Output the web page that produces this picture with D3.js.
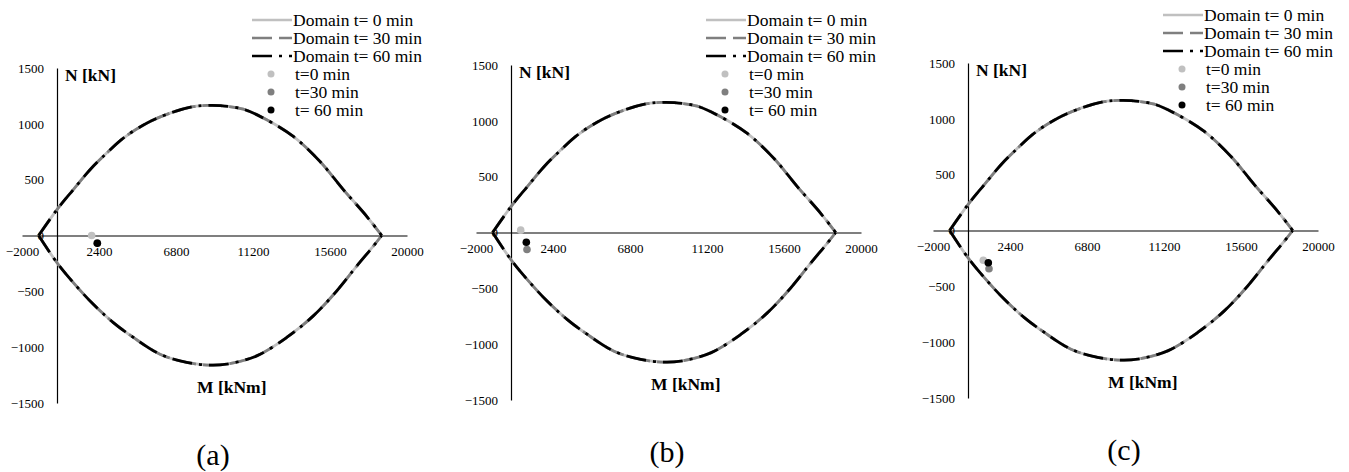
<!DOCTYPE html>
<html>
<head>
<meta charset="utf-8">
<script src="https://cdn.jsdelivr.net/npm/d3@7"></script>
<style>
  html, body { margin: 0; padding: 0; background: #fff; }
  svg, svg text { font-family: "Liberation Serif", "Times New Roman", Times, serif; }
  svg { display: block; }
</style>
</head>
<body>
<svg id="chart" width="1349" height="472"></svg>
<script>
const FONT = "Liberation Serif, Times New Roman, Times, serif";

// Axis ticks
const mTicks = [-2000, 2400, 6800, 11200, 15600, 20000];
const nTicks = [-1500, -1000, -500, 0, 500, 1000, 1500];

// Interaction domain (M [kNm], N [kN]) - upper and lower branches
const upperM = [-1050, 0, 933, 1886, 2838, 3790, 5124, 6457, 7790, 8600, 9314, 10646, 11983, 13503, 15029, 16360, 17697, 18554];
const upperN = [0, 232, 411, 589, 738, 872, 1006, 1096, 1154, 1165, 1163, 1131, 1036, 887, 663, 411, 172, 0];
const lowerM = [-1050, 0, 933, 2076, 3219, 4362, 5886, 7411, 8743, 9697, 11411, 13126, 14646, 15983, 17126, 18074, 18554];
const lowerN = [0, -244, -422, -616, -780, -913, -1063, -1137, -1161, -1152, -1078, -913, -720, -497, -274, -96, 0];

// Series names
const domainNames = ["Domain t= 0 min", "Domain t= 30 min", "Domain t= 60 min"];
const pointNames = ["t=0 min", "t=30 min", "t= 60 min"];

// Acting loads per case, one value per time step (0, 30, 60 min)
const loadM_a = [1980, 2300, 2305];
const loadN_a = [0, -68, -70];
const loadM_b = [554, 914, 875];
const loadN_b = [21, -152, -87];
const loadM_c = [874, 1200, 1160];
const loadN_c = [-266, -343, -289];

const captions = ["(a)", "(b)", "(c)"];

const seriesColor = ["#c0c0c0", "#7f7f7f", "#000000"];
const seriesDash = [null, "20,7", "20,7,3,7"];

const panels = [
  { caption: captions[0], x0: 22,  y0: 68, M: loadM_a, N: loadN_a, ly: 20 },
  { caption: captions[1], x0: 476, y0: 65, M: loadM_b, N: loadN_b, ly: 20 },
  { caption: captions[2], x0: 933, y0: 63, M: loadM_c, N: loadN_c, ly: 15 }
];

const W = 385, H = 335;
const svg = d3.select("#chart");

const upper = upperM.map((m, i) => [m, upperN[i]]);
const lower = lowerM.map((m, i) => [m, lowerN[i]]);

panels.forEach(p => {
  const x = d3.scaleLinear().domain([-2000, 20000]).range([p.x0, p.x0 + W]);
  const y = d3.scaleLinear().domain([-1500, 1500]).range([p.y0 + H, p.y0]);
  const g = svg.append("g").attr("font-family", FONT);

  // Horizontal M axis through N = 0
  const xAxis = d3.axisBottom(x).tickValues(mTicks).tickSize(0).tickSizeOuter(0).tickPadding(11)
    .tickFormat(d3.format("d"));
  const gx = g.append("g").attr("transform", `translate(0,${y(0)})`).call(xAxis)
    .attr("font-family", FONT).attr("font-size", 13);
  gx.select(".domain").attr("stroke", "#000").attr("stroke-width", 1.2);
  gx.selectAll("text").attr("fill", "#000");

  // Vertical N axis through M = 0, labels kept to the left of the plot
  const yAxis = d3.axisLeft(y).tickValues(nTicks).tickSize(0).tickSizeOuter(0).tickPadding(13)
    .tickFormat(d3.format("d"));
  const gy = g.append("g").attr("transform", `translate(${x(0)},0)`).call(yAxis)
    .attr("font-family", FONT).attr("font-size", 13);
  gy.select(".domain").attr("stroke", "#000").attr("stroke-width", 1.2);
  gy.selectAll("text").attr("fill", "#000");

  // Axis titles
  g.append("text").attr("x", x(0) + 8).attr("y", y(1500) + 13)
    .attr("font-size", 17.5).attr("font-weight", "bold").text("N [kN]");
  g.append("text").attr("x", x(8000)).attr("y", y(-1360) + 6)
    .attr("font-size", 17.5).attr("font-weight", "bold").text("M [kNm]");

  // Domain curves, drawn in time order so the dashed ones lie on top
  const line = d3.line().x(d => x(d[0])).y(d => y(d[1])).curve(d3.curveCatmullRom.alpha(0.5));
  domainNames.forEach((name, i) => {
    [upper, lower].forEach(branch => {
      g.append("path").datum(branch).attr("d", line)
        .attr("fill", "none").attr("stroke", seriesColor[i]).attr("stroke-width", 2.8)
        .attr("stroke-dasharray", seriesDash[i]);
    });
  });

  // Acting load points
  pointNames.forEach((name, i) => {
    g.append("circle").attr("cx", x(p.M[i])).attr("cy", y(p.N[i])).attr("r", 3.8)
      .attr("fill", seriesColor[i]);
  });

  // Legend
  const lx = p.x0 + 230;
  const leg = g.append("g");
  domainNames.forEach((name, i) => {
    const cy = p.ly + i * 18;
    leg.append("line").attr("x1", lx).attr("x2", lx + 40).attr("y1", cy).attr("y2", cy)
      .attr("stroke", seriesColor[i]).attr("stroke-width", 2.6).attr("stroke-dasharray", seriesDash[i]);
    leg.append("text").attr("x", lx + 41).attr("y", cy + 6).attr("font-size", 17.5).text(name);
  });
  pointNames.forEach((name, i) => {
    const cy = p.ly + 54 + i * 18;
    leg.append("circle").attr("cx", lx + 19).attr("cy", cy).attr("r", 3.5).attr("fill", seriesColor[i]);
    leg.append("text").attr("x", lx + 43).attr("y", cy + 6).attr("font-size", 17.5).text(name);
  });

  // Sub-figure caption
  g.append("text").attr("x", p.x0 + 191).attr("y", p.y0 + 397).attr("text-anchor", "middle")
    .attr("font-size", 30).text(p.caption);
});
</script>
</body>
</html>
